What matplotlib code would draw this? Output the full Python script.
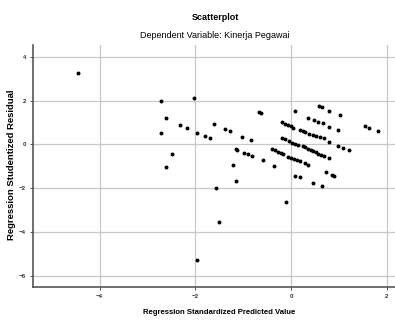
"""
SPSS style residual scatterplot: studentized residual vs standardized predicted value.
"""

import numpy as np
import matplotlib.pyplot as plt

# chart data
pred = [-4.44, -2.72, -2.62, -2.33, -2.17, -2.71, -1.96, -2.03, -2.48, -2.61,
        -1.79, -1.69, -1.61, -1.37, -1.27, -1.02, -0.84, -0.68, -0.63,
        -1.16, -1.12, -0.99, -0.90, -0.82, -0.59, -0.35, -1.21, -1.15, -1.57,
        0.08, 0.585, 0.655, 0.80, 1.03, 0.36, 0.47, 0.57, 0.66, 0.79, 0.97,
        -0.19, -0.13, -0.07, -0.01, 0.05, 0.19, 0.25, 0.29,
        0.38, 0.45, 0.52, 0.60, 0.68, 0.79, 0.97, 1.09, 1.21,
        -0.19, -0.12, -0.05, 0.02, 0.08, 0.14,
        0.24, 0.30, 0.35, 0.41, 0.46, 0.52, 0.57, 0.63, 0.68, 0.79,
        -0.39, -0.33, -0.27, -0.21, -0.16,
        -0.06, 0.00, 0.06, 0.13, 0.19, 0.29, 0.36,
        0.72, 0.85, 0.90, 0.08, 0.19, 0.45, 0.64,
        -0.10, -1.51, -1.97, 1.55, 1.62, 1.81]
resid = [3.28, 1.98, 1.19, 0.88, 0.75, 0.53, 0.53, 2.13, -0.44, -1.05,
         0.37, 0.27, 0.93, 0.70, 0.59, 0.35, 0.20, 1.49, 1.45,
         -0.22, -0.25, -0.38, -0.44, -0.54, -0.73, -0.99, -0.96, -1.66, -1.98,
         1.51, 1.75, 1.69, 1.51, 1.33, 1.19, 1.11, 1.02, 0.96, 0.81, 0.64,
         1.02, 0.95, 0.89, 0.82, 0.76, 0.67, 0.62, 0.56,
         0.46, 0.42, 0.37, 0.32, 0.27, 0.12, -0.06, -0.17, -0.26,
         0.30, 0.23, 0.15, 0.08, 0.02, -0.03,
         -0.09, -0.14, -0.20, -0.26, -0.31, -0.37, -0.42, -0.48, -0.54, -0.61,
         -0.20, -0.26, -0.33, -0.40, -0.46,
         -0.57, -0.61, -0.66, -0.71, -0.76, -0.87, -0.93,
         -1.27, -1.40, -1.45, -1.44, -1.51, -1.76, -1.91,
         -2.63, -3.54, -5.31, 0.82, 0.76, 0.59]
x_ticks = [-4, -2, 0, 2]
y_ticks = [-6, -4, -2, 0, 2, 4]

plt.rcParams['font.family'] = ['Liberation Sans', 'DejaVu Sans']

fig = plt.figure(figsize=(3.95, 3.2), dpi=100)
ax = fig.add_axes([0.0835, 0.102, 0.9165, 0.757])

ax.scatter(pred, resid, s=8, color='black', linewidths=0, zorder=3)

ax.set_xlim(-5.39, 2.17)
ax.set_ylim(-6.54, 4.54)
ax.set_xticks(x_ticks)
ax.set_yticks(y_ticks)
ax.tick_params(labelsize=4.5, length=2, width=0.6, colors='#333333', pad=3)
for lbl in ax.get_xticklabels() + ax.get_yticklabels():
    lbl.set_fontweight('bold')
ax.grid(True, color='#c8c8c8', linewidth=0.9, zorder=0)

for side in ['top', 'right']:
    ax.spines[side].set_visible(False)
for side in ['left', 'bottom']:
    ax.spines[side].set_color('#555555')
    ax.spines[side].set_linewidth(1.2)

# axis titles placed like the SPSS output
fig.text(0.555, 0.022, 'Regression Standardized Predicted Value', ha='center', va='center',
         fontsize=5.6, fontweight='bold')
fig.text(0.03, 0.485, 'Regression Studentized Residual', ha='center', va='center',
         rotation=90, fontsize=6.8, fontweight='bold')

fig.text(0.545, 0.945, 'Scatterplot', ha='center', va='center', fontsize=6.5, fontweight='bold')
fig.text(0.545, 0.89, 'Dependent Variable: Kinerja Pegawai', ha='center', va='center', fontsize=6.5)

fig.savefig('out.png', dpi=100)
